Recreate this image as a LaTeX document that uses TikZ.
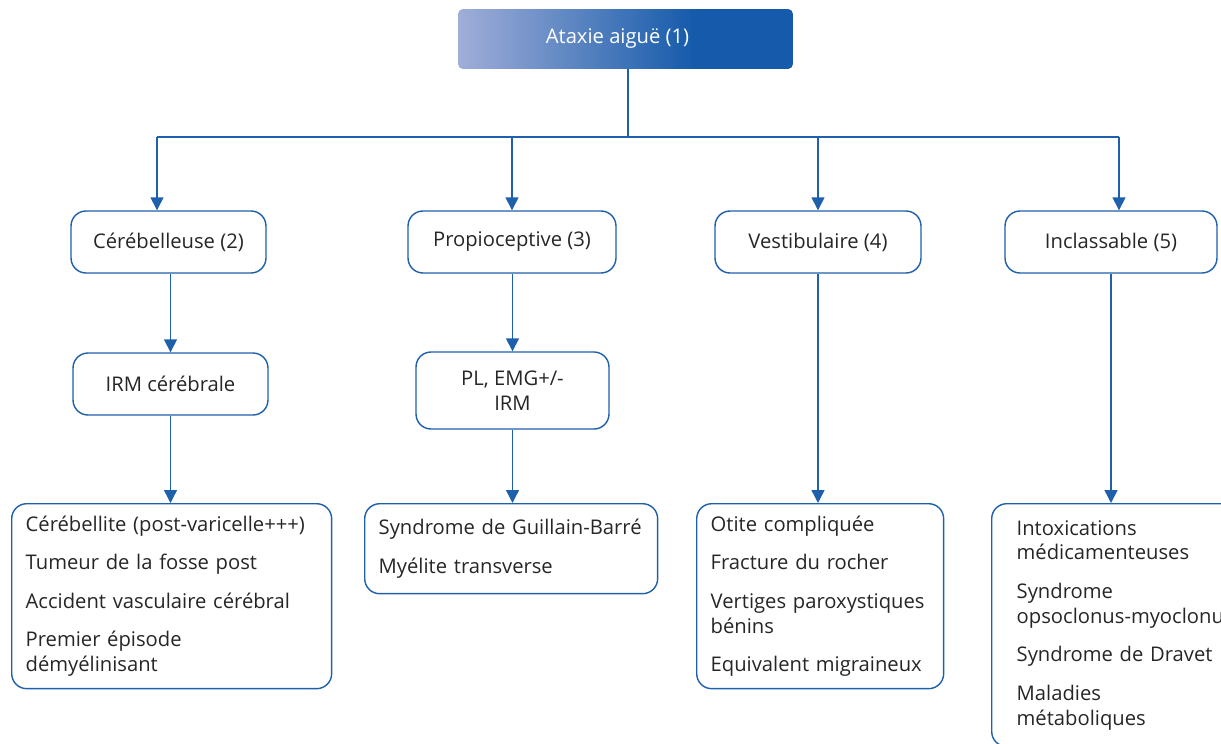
\documentclass[tikz,border=0pt]{standalone}
\usepackage{fontspec}
\setmainfont{Open Sans}
\usetikzlibrary{arrows.meta,positioning}
\definecolor{lineblue}{RGB}{30,96,172}
\definecolor{txtgray}{RGB}{38,38,38}
\definecolor{gradlight}{RGB}{160,174,216}
\definecolor{graddark}{RGB}{22,91,171}
\pgfdeclarehorizontalshading{ataxiegrad}{100bp}{color(0bp)=(gradlight); color(25bp)=(gradlight); color(60bp)=(graddark); color(100bp)=(graddark)}

\begin{document}
\begin{tikzpicture}[
    x=0.02cm, y=-0.02cm,
    font=\fontsize{11.5}{14.2}\selectfont, text=txtgray,
    topbox/.style={rectangle, rounded corners=0.1cm, shading=ataxiegrad, text=white, minimum width=6.7cm, minimum height=1.2cm},
    catbox/.style={rectangle, draw=lineblue, line width=0.8pt, rounded corners=0.3cm, minimum height=1.24cm, align=center},
    listbox/.style={rectangle, draw=lineblue, line width=0.8pt, rounded corners=0.3cm, anchor=north west, align=left, inner xsep=0.28cm},
    conn/.style={draw=lineblue, line width=0.8pt},
    arrow/.style={conn, -{Triangle[length=2.6mm, width=2.6mm]}}
]
\useasboundingbox (0,0) rectangle (1221,744);

% Top
\node[topbox] (ataxie) at (625.5,39) {Ataxie aiguë (1)\kern0.32cm};

% Categories
\node[catbox, minimum width=3.9cm] (cereb) at (168.5,242) {Cérébelleuse (2)};
\node[catbox, minimum width=4.16cm] (propio) at (512,242) {Propioceptive (3)};
\node[catbox, minimum width=4.12cm] (vestib) at (818,242) {Vestibulaire (4)};
\node[catbox, minimum width=4.24cm] (inclass) at (1111,242) {Inclassable (5)};

% Exams
\node[catbox, minimum width=3.9cm] (irm) at (170.5,384) {IRM cérébrale};
\node[catbox, minimum width=3.86cm, minimum height=1.54cm] (plemg) at (512.5,390.5) {PL, EMG+/-\\IRM};

% Lists
\node[listbox, text width=5.84cm, minimum height=3.7cm] (cerlist) at (11,503) {%
  Cérébellite (post-varicelle+++)\\[0.27cm]
  Tumeur de la fosse post\\[0.27cm]
  Accident vasculaire cérébral\\[0.27cm]
  Premier épisode\\démyélinisant};
\node[listbox, text width=5.3cm, minimum height=1.8cm] (gbslist) at (364,503) {%
  Syndrome de Guillain-Barré\\[0.27cm]
  Myélite transverse};
\node[listbox, text width=4.38cm, minimum height=3.7cm] (otlist) at (696,503) {%
  Otite compliquée\\[0.27cm]
  Fracture du rocher\\[0.27cm]
  Vertiges paroxystiques\\bénins\\[0.27cm]
  Equivalent migraineux};
\node[listbox, inner xsep=0.5cm, inner ysep=0.33cm, text width=4.6cm] (intlist) at (991,503) {%
  Intoxications\\médicamenteuses\\[0.27cm]
  Syndrome\\opsoclonus-myoclonus\\[0.27cm]
  Syndrome de Dravet\\[0.27cm]
  Maladies\\métaboliques};

% Connectors
\coordinate (trunk) at (628,137);
\coordinate (jcereb) at (157,137);
\coordinate (jinclass) at (1119,137);
\draw[conn] (ataxie.south -| trunk) -- (trunk);
\draw[conn] (jcereb) -- (jinclass);
\draw[arrow] (jcereb) -- (jcereb |- cereb.north);
\draw[arrow] (trunk -| propio) -- (propio.north);
\draw[arrow] (trunk -| vestib) -- (vestib.north);
\draw[arrow] (jinclass) -- (jinclass |- inclass.north);

\draw[arrow] (cereb.south -| irm) -- (irm.north);
\draw[arrow] (propio.south -| plemg) -- (plemg.north);
\draw[arrow] (irm.south) -- (irm.south |- cerlist.north);
\draw[arrow] (plemg.south) -- (plemg.south |- gbslist.north);
\draw[arrow] (vestib.south) -- (vestib.south |- otlist.north);
\draw[arrow] (inclass.south) -- (inclass.south |- intlist.north);
\end{tikzpicture}
\end{document}
